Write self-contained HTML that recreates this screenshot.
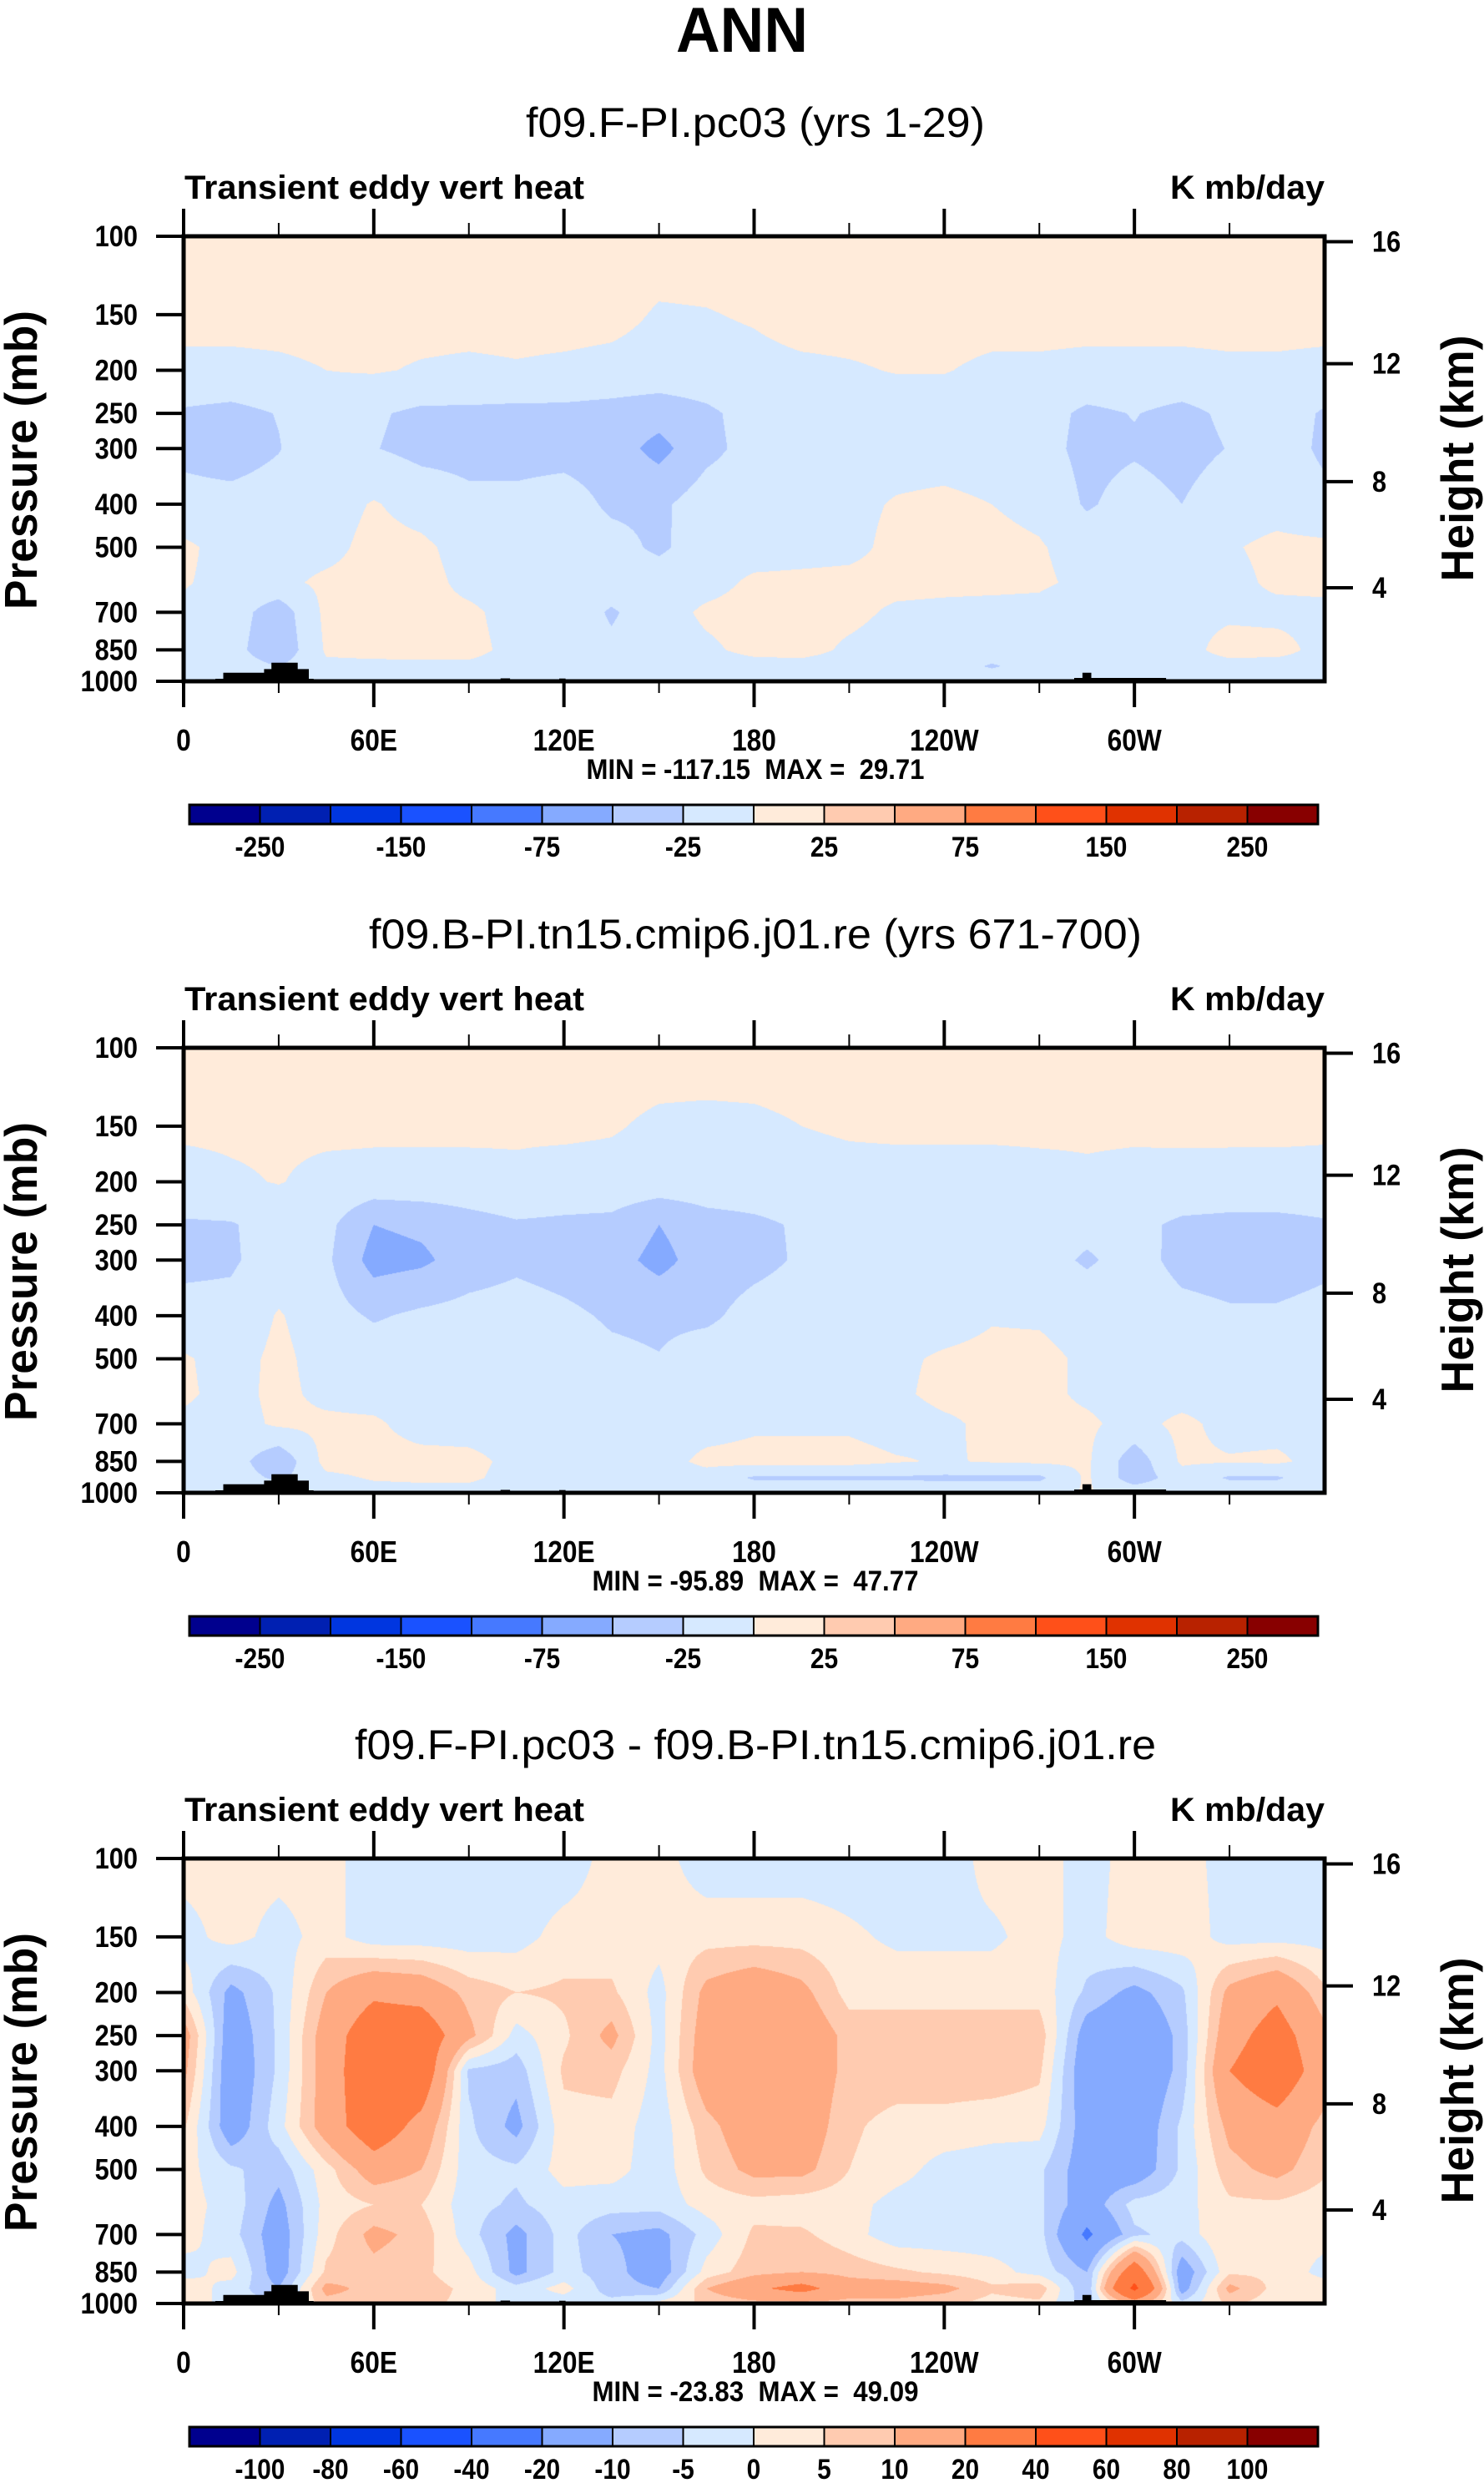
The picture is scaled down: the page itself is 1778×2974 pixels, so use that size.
<!DOCTYPE html>
<html>
<head>
<meta charset="utf-8">
<style>
html,body{margin:0;padding:0;background:#fff;}
body{width:1778px;height:2974px;position:relative;overflow:hidden;}
canvas{position:absolute;left:220px;}
svg{position:absolute;left:0;top:0;}
text{font-family:"Liberation Sans",sans-serif;fill:#000;white-space:pre;}
</style>
</head>
<body>
<canvas id="c0" width="1367" height="533" style="top:283px"></canvas>
<canvas id="c1" width="1367" height="533" style="top:1255px"></canvas>
<canvas id="c2" width="1367" height="533" style="top:2226px"></canvas>
<svg id="ov" width="1778" height="2974"></svg>
<script>
// ---------- data ----------
const lonGrid = [0,15,30,45,60,75,90,105,120,135,150,165,180,195,210,225,240,255,270,285,300,315,330,345,360];
const presGrid = [100,150,200,250,300,400,500,600,700,850,925,1000];

const fieldCtl = [
 [10,10,10,10,10,10,10,10,10,10,10,10,10,10,10,10,10,10,10,10,10,10,10,10,10],
 [8,8,8,8,8,8,8,8,8,6,-2,-1,2,8,8,8,8,8,8,8,8,8,8,8,8],
 [-6,-6,-4,0,2,-2,-4,-2,-4,-6,-8,-8,-6,-4,-2,1,1,-4,-4,-6,-6,-6,-4,-4,-6],
 [-28,-32,-24,-10,-22,-30,-30,-32,-32,-35,-40,-30,-15,-10,-10,-10,-10,-12,-15,-30,-24,-32,-20,-12,-28],
 [-30,-35,-26,-10,-24,-32,-32,-35,-35,-38,-58,-32,-16,-10,-10,-10,-10,-12,-16,-32,-28,-34,-24,-12,-30],
 [-18,-18,-15,-12,2,-10,-20,-18,-12,-30,-30,-12,-10,-8,-6,2,5,0,-6,-28,-15,-25,-10,-8,-18],
 [5,-10,-10,-8,8,5,-10,-10,-8,-15,-30,-10,-10,-8,-6,6,8,6,2,-10,-8,-10,-2,5,5],
 [2,-8,-6,5,8,8,-6,-10,-10,-12,-10,-8,4,5,6,7,6,6,4,-6,-10,-10,-6,4,5],
 [-5,-12,-40,6,8,6,4,-8,-8,-28,-10,4,8,8,6,-4,-6,-8,-8,-20,-10,-5,-4,-6,-5],
 [-8,-15,-45,3,5,6,6,-6,-8,-20,-10,-4,6,8,-4,-10,-10,-10,-8,-10,-10,-8,8,8,-8],
 [-8,-12,-25,-4,-4,-4,-4,-8,-8,-10,-10,-10,-8,-8,-10,-10,-10,-28,-12,-10,-10,-8,-8,-10,-8],
 [-8,-8,-8,-8,-8,-8,-8,-8,-8,-8,-8,-8,-8,-8,-8,-8,-8,-8,-8,-8,-8,-8,-8,-8,-8]
];
const fieldCpl = [
 [10,10,10,10,10,10,10,10,10,10,10,10,10,10,10,10,10,10,10,10,10,10,10,10,10],
 [4,4,4,5,5,5,5,3,4,2,-4,-5,-4,0,3,4,4,4,4,3,3,4,5,5,4],
 [-8,-3,1,-6,-8,-8,-8,-4,-8,-8,-10,-10,-10,-10,-8,-8,-8,-8,-6,-3,-5,-6,-8,-8,-8],
 [-28,-27,-14,-18,-50,-45,-35,-28,-30,-32,-50,-35,-30,-22,-12,-12,-12,-12,-14,-18,-18,-30,-32,-32,-28],
 [-30,-28,-14,-20,-60,-55,-38,-30,-35,-40,-58,-38,-32,-22,-12,-12,-12,-12,-16,-28,-16,-32,-35,-35,-30],
 [-18,-18,2,-14,-28,-20,-16,-14,-20,-28,-30,-30,-16,-12,-10,-10,-10,-2,-3,-10,-10,-18,-22,-22,-18],
 [3,-10,6,-10,-10,-10,-10,-10,-12,-20,-24,-12,-10,-8,-8,-4,3,6,6,-4,-10,-10,-10,-10,-8],
 [4,-8,6,-6,-10,-10,-10,-10,-10,-10,-10,-10,-10,-10,-8,-4,6,6,6,-4,-10,-10,-10,-10,-8],
 [-5,-10,4,5,4,-10,-10,-10,-10,-22,-10,-10,-4,-4,-4,-10,-4,5,6,4,-8,6,-8,-8,-8],
 [-8,-12,-45,8,8,8,6,-6,-8,-8,-10,6,8,8,8,2,-2,2,4,4,-40,4,2,4,-8],
 [-8,-12,-30,-5,2,4,4,-8,-8,-8,-10,-10,-28,-28,-28,-28,-30,-30,-30,4,-40,-10,-28,-28,-8],
 [-8,-8,-8,-8,-8,-8,-8,-8,-8,-8,-8,-8,-8,-8,-8,-8,-8,-8,-8,2,-8,-8,-8,-8,-8]
];
const fieldDiff = [
 [2,2,2,2,-3,-3,-3,-3,-3,2,2,-3,-3,-3,-3,-3,-3,2,2,-2,2,2,-2,-2,-2],
 [-2,2,-2,2,-3,-3,-3,-2,2,2,2,3,3,3,1,-1,-1,-1,2,-2,3,3,-2,-2,-2],
 [3,-12,-4,10,18,16,8,5,6,6,-2,12,16,12,3,3,3,3,3,-6,-12,-6,12,18,6],
 [14,-15,-4,14,28,28,12,-2,4,12,-2,14,18,16,8,8,8,8,8,-14,-18,-8,16,25,12],
 [12,-16,-4,14,30,30,-6,-8,6,7,-2,15,18,16,8,8,8,8,6,-16,-18,-8,20,28,14],
 [6,-15,-2,14,28,16,-4,-12,3,3,-3,8,15,15,6,3,3,2,2,-14,-16,-4,12,16,8],
 [2,-4,-8,3,14,10,-3,-4,2,2,-3,6,12,12,5,2,-2,-3,-4,-14,-15,-4,8,12,6],
 [2,-2,-12,2,5,5,-3,-6,-2,-3,-3,2,3,2,2,-2,-3,-4,-4,-14,-3,-2,4,4,2],
 [2,-3,-14,3,12,8,-3,-12,-3,-10,-12,-3,6,6,2,-3,-3,-3,-3,-22,-6,-3,5,2,2],
 [-2,2,-14,6,8,6,2,-12,-3,-8,-14,2,8,10,8,6,4,2,-2,-10,30,-15,4,4,-2],
 [3,-2,-10,12,8,7,4,-3,2,-8,-10,10,18,24,14,14,12,6,8,-10,45,-14,12,3,3],
 [3,-2,-5,8,8,6,4,-3,-3,-3,2,6,8,8,8,8,6,3,4,-8,12,-3,6,2,3]
];
const levelsAbs = [-250,-200,-150,-100,-75,-50,-25,0,25,50,75,100,150,200,250];
const levelsDiff = [-100,-80,-60,-40,-20,-10,-5,0,5,10,20,40,60,80,100];
const labelsAbs = ["","-250","","-150","","-75","","-25","","25","","75","","150","","250"];
const labelsDiff = ["","-100","-80","-60","-40","-20","-10","-5","0","5","10","20","40","60","80","100"];
const fillColors = ["#00008e","#0020b2","#0036e0","#1a52ff","#4679ff","#85aaff","#b5ccff","#d6e9ff","#ffebda","#ffcbb0","#ffaa82","#ff7b42","#ff5019","#e03200","#b82200","#880000"];
const lonTicksMajor = [0,60,120,180,240,300];
const lonTickLabels = ["0","60E","120E","180","120W","60W"];
const lonTicksMinor = [30,90,150,210,270,330];
const presTicks = [100,150,200,250,300,400,500,700,850,1000];
const heightTicks = [4,8,12,16];
const topoLonA = [10,10,12.5,12.5,25.4,25.4,27.7,27.7,36,36,39.5,39.5,41,41];
const topoPA = [1000,987,987,957,957,939,939,908,908,939,939,987,987,1000];
const topoLonB = [281,281,283.6,283.6,286.4,286.4,310,310];
const topoPB = [1000,983,983,957,957,983,983,1000];
const topoLonC = [100,100,103,103];
const topoPC = [1000,985,985,1000];
const topoLonD = [118.5,118.5,120.5,120.5];
const topoPD = [1000,986,986,1000];
const minMaxText = ["MIN = -117.15  MAX =  29.71","MIN = -95.89  MAX =  47.77","MIN = -23.83  MAX =  49.09"];
const subtitles = ["f09.F-PI.pc03 (yrs 1-29)","f09.B-PI.tn15.cmip6.j01.re (yrs 671-700)","f09.F-PI.pc03 - f09.B-PI.tn15.cmip6.j01.re"];

// ---------- geometry ----------
const X0 = 220, X1 = 1587, PH = 533;
const panelTop = [283,1255,2226];
const subLen = [550,926,960];
const minLen = [405,391,391];
function xOf(lon){ return X0 + lon/360*(X1-X0); }
function yOf(p, y0){ return y0 + Math.log10(p/100)*PH; }
function pOfHeight(km){
  const z = km*1000;
  if (z <= 11000) return 1013.25*Math.pow(1-2.25577e-5*z,5.25588);
  return 226.32*Math.exp(-(z-11000)/6341.6);
}

// ---------- contour fill ----------
function valueAt(field, lon, p){
  let fi = lon/15; let i0 = Math.min(23, Math.floor(fi)); let ti = fi - i0;
  const lp = Math.log(p);
  let j0 = 0;
  while (j0 < presGrid.length-2 && p > presGrid[j0+1]) j0++;
  let tj = (lp - Math.log(presGrid[j0]))/(Math.log(presGrid[j0+1]) - Math.log(presGrid[j0]));
  tj = Math.max(0, Math.min(1, tj));
  const a = field[j0][i0], b = field[j0][i0+1], c = field[j0+1][i0], d = field[j0+1][i0+1];
  return (a*(1-ti)+b*ti)*(1-tj) + (c*(1-ti)+d*ti)*tj;
}
function hexRGB(h){ return [parseInt(h.substr(1,2),16),parseInt(h.substr(3,2),16),parseInt(h.substr(5,2),16)]; }
const rgbList = fillColors.map(hexRGB);
function drawField(canvasId, field, levels){
  const cv = document.getElementById(canvasId);
  const ctx = cv.getContext('2d');
  const W = cv.width, H = cv.height;
  const img = ctx.createImageData(W, H);
  for (let py = 0; py < H; py++){
    const p = Math.pow(10, 2 + (py+0.5)/H);
    for (let px = 0; px < W; px++){
      const lon = (px+0.5)/W*360;
      const v = valueAt(field, lon, p);
      let k = 0; while (k < levels.length && v >= levels[k]) k++;
      const c = rgbList[k];
      const o = (py*W+px)*4;
      img.data[o]=c[0]; img.data[o+1]=c[1]; img.data[o+2]=c[2]; img.data[o+3]=255;
    }
  }
  ctx.putImageData(img,0,0);
}
drawField('c0', fieldCtl, levelsAbs);
drawField('c1', fieldCpl, levelsAbs);
drawField('c2', fieldDiff, levelsDiff);

// ---------- svg overlay ----------
const NS = 'http://www.w3.org/2000/svg';
const ov = document.getElementById('ov');
function mk(tag, attrs, parent){
  const e = document.createElementNS(NS, tag);
  for (const k in attrs) e.setAttribute(k, attrs[k]);
  (parent||ov).appendChild(e);
  return e;
}
function txt(str, attrs, parent){
  const e = mk('text', attrs, parent);
  e.textContent = str;
  return e;
}

const title = txt('ANN', {x:889, y:62, 'text-anchor':'middle', 'font-size':76, 'font-weight':'bold', textLength:158, lengthAdjust:'spacingAndGlyphs'});



const topoSets = [[topoLonA,topoPA],[topoLonB,topoPB],[topoLonC,topoPC],[topoLonD,topoPD]];

for (let k = 0; k < 3; k++){
  const y0 = panelTop[k], y1 = y0 + PH;
  const g = mk('g', {});
  
  

  const st = txt(subtitles[k], {x:905, y:y0-119, 'text-anchor':'middle', 'font-size':50, textLength:subLen[k], lengthAdjust:'spacingAndGlyphs'}, g);
  
  

  const lt = txt('Transient eddy vert heat', {x:221, y:y0-45, 'font-size':40, 'font-weight':'bold', textLength:479, lengthAdjust:'spacingAndGlyphs'}, g);
  
  

  const ut = txt('K mb/day', {x:1587, y:y0-45, 'text-anchor':'end', 'font-size':40, 'font-weight':'bold', textLength:185, lengthAdjust:'spacingAndGlyphs'}, g);
  
  

  topoSets.forEach(function(tp){
    const pts = tp[0].map(function(l,i){ return xOf(l).toFixed(1)+','+yOf(tp[1][i], y0).toFixed(1); }).join(' ');
    const poly = mk('polygon', {points:pts, fill:'#000'}, g);
    
    
  });

  const fr = mk('rect', {x:X0, y:y0, width:X1-X0, height:PH, fill:'none', stroke:'#000', 'stroke-width':5}, g);
  
  

  lonTicksMajor.forEach(function(l, i){
    const x = xOf(l);
    const t1 = mk('line', {x1:x, x2:x, y1:y0-33, y2:y0, stroke:'#000', 'stroke-width':4}, g);
    
    
    const t2 = mk('line', {x1:x, x2:x, y1:y1, y2:y1+31, stroke:'#000', 'stroke-width':4}, g);
    
    
    const lb = txt(lonTickLabels[i], {x:x, y:y1+83, 'text-anchor':'middle', 'font-size':36, 'font-weight':'bold', transform:'translate('+x+',0) scale(0.88,1) translate('+(-x)+',0)'}, g);
    
    
  });
  lonTicksMinor.forEach(function(l){
    const x = xOf(l);
    const t1 = mk('line', {x1:x, x2:x, y1:y0-16, y2:y0, stroke:'#000', 'stroke-width':2}, g);
    
    
    const t2 = mk('line', {x1:x, x2:x, y1:y1, y2:y1+14, stroke:'#000', 'stroke-width':2}, g);
    
    
  });

  presTicks.forEach(function(p){
    const y = yOf(p, y0);
    const t = mk('line', {x1:187, x2:X0, y1:y, y2:y, stroke:'#000', 'stroke-width':4}, g);
    
    
    const lb = txt(String(p), {x:165, y:y+12, 'text-anchor':'end', 'font-size':35, 'font-weight':'bold', transform:'translate(165,0) scale(0.88,1) translate(-165,0)'}, g);
    
    
  });

  heightTicks.forEach(function(h){
    const y = yOf(pOfHeight(h), y0);
    const t = mk('line', {x1:X1, x2:1621, y1:y, y2:y, stroke:'#000', 'stroke-width':4}, g);
    
    
    const lb = txt(String(h), {x:1644, y:y+12, 'font-size':35, 'font-weight':'bold', transform:'translate(1644,0) scale(0.88,1) translate(-1644,0)'}, g);
    
    
  });

  const ya = txt('Pressure (mb)', {x:0, y:0, 'text-anchor':'middle', 'font-size':55, 'font-weight':'bold', textLength:358, lengthAdjust:'spacingAndGlyphs', transform:'translate(44,'+(y0+268)+') rotate(-90)'}, g);
  
  

  const ra = txt('Height (km)', {x:0, y:0, 'text-anchor':'middle', 'font-size':55, 'font-weight':'bold', textLength:295, lengthAdjust:'spacingAndGlyphs', transform:'translate(1765,'+(y0+266)+') rotate(-90)'}, g);
  
  

  const mm = txt(minMaxText[k], {x:905, y:y1+117, 'text-anchor':'middle', 'font-size':34, 'font-weight':'bold', textLength:minLen[k], lengthAdjust:'spacingAndGlyphs'}, g);
  
  

  const cbx = 227, cbw = 1352, cby = y0 + 681, cbh = 23;
  const bw = cbw/16;
  const labs = (k < 2) ? labelsAbs : labelsDiff;
  for (let i = 0; i < 16; i++){
    const r = mk('rect', {x:cbx+i*bw, y:cby, width:bw, height:cbh, fill:fillColors[i], stroke:'#000', 'stroke-width':2}, g);
    
    
    if (labs[i]){
      const bx = cbx + i*bw;
      const cl = txt(labs[i], {x:bx, y:cby+62, 'text-anchor':'middle', 'font-size':34, 'font-weight':'bold', transform:'translate('+bx+',0) scale(0.88,1) translate('+(-bx)+',0)'}, g);
      
      
    }
  }
  const cbf = mk('rect', {x:cbx, y:cby, width:cbw, height:cbh, fill:'none', stroke:'#000', 'stroke-width':3}, g);
  
  
}
</script>
</body>
</html>
